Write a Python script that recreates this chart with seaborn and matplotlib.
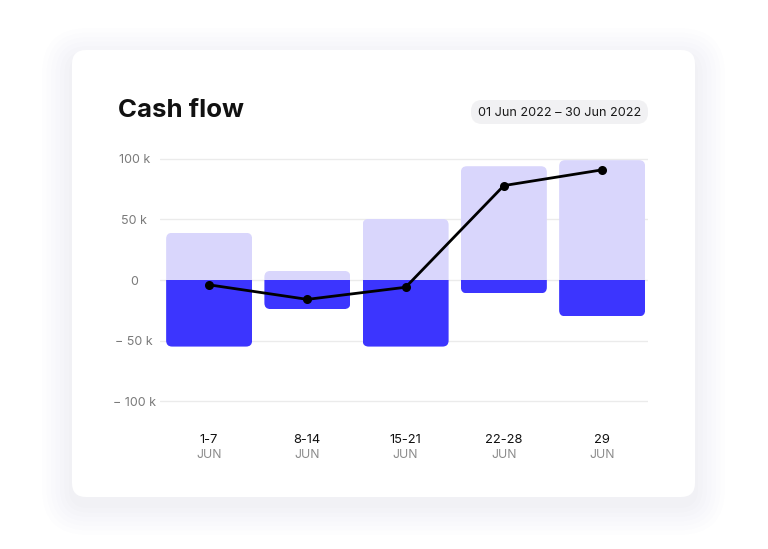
import numpy as np
import pandas as pd
import matplotlib
matplotlib.use("Agg")
import matplotlib.pyplot as plt
from matplotlib.patches import FancyBboxPatch
import seaborn as sns

# ---- data (thousands) ----
weeks = ["1-7", "8-14", "15-21", "22-28", "29"]
months = ["JUN", "JUN", "JUN", "JUN", "JUN"]
inflow = [39, 7.5, 50.5, 94, 99]
outflow = [-55, -24, -55, -11, -30]
net = [-4, -16, -6, 78, 91]
ytick_vals = [100, 50, 0, -50, -100]
ytick_labels = ["100 k", "50 k", "0", "\u2212 50 k", "\u2212 100 k"]

LIGHT = "#D9D6FC"
DARK = "#3C35FE"

sns.set_theme(style="white")
plt.rcParams["font.family"] = ["Inter", "DejaVu Sans"]

W, H = 768, 549
fig = plt.figure(figsize=(W / 100, H / 100), dpi=100)
fig.patch.set_facecolor("white")

def fx(px):
    return px / W

def fy(py):
    return 1 - py / H

# card shadow (soft)
for i, a in enumerate([0.006, 0.007, 0.008, 0.009, 0.010, 0.011, 0.012]):
    g = 30 - i * 4.5
    sh = FancyBboxPatch((fx(72 - g), fy(497 + g + 8)), fx(623 + 2 * g), (447 + 2 * g) / H,
                        boxstyle="round,pad=0,rounding_size=%f" % fx(16 + g),
                        mutation_aspect=W / H, transform=fig.transFigure,
                        facecolor="#707090", edgecolor="none", alpha=a, zorder=0)
    fig.patches.append(sh)
card = FancyBboxPatch((fx(72), fy(497)), fx(623), 447 / H,
                      boxstyle="round,pad=0,rounding_size=%f" % fx(14),
                      mutation_aspect=W / H, transform=fig.transFigure,
                      facecolor="white", edgecolor="none", zorder=1)
fig.patches.append(card)

# title and date pill
fig.text(fx(118), fy(117), "Cash flow", fontsize=18.6, fontweight="bold", color="#111111",
         ha="left", va="baseline", zorder=5)
pill = FancyBboxPatch((fx(471), fy(124)), fx(177), 24 / H,
                      boxstyle="round,pad=0,rounding_size=%f" % fx(11),
                      transform=fig.transFigure,
                      facecolor="#F1F1F3", edgecolor="none", zorder=4,
                      mutation_aspect=W / H)
fig.patches.append(pill)
fig.text(fx(559.5), fy(112.5), "01 Jun 2022 \u2013 30 Jun 2022", fontsize=9.1, color="#1a1a1a",
         ha="center", va="center", zorder=5)

# axes
ax = fig.add_axes([fx(160), fy(410), fx(648 - 160), 260 / H])
ax.set_facecolor("none")
ax.set_zorder(3)

df = pd.DataFrame({"week": weeks, "inflow": inflow, "outflow": outflow, "net": net})
sns.barplot(data=df, x="week", y="inflow", color=LIGHT, width=0.875, saturation=1,
            ax=ax, zorder=2)
sns.barplot(data=df, x="week", y="outflow", color=DARK, width=0.875, saturation=1,
            ax=ax, zorder=2)
rects = list(ax.patches)

# net line
sns.pointplot(data=df, x="week", y="net", color="black", markers="o", markersize=5,
              linewidth=2, ax=ax, zorder=5)

XR = 4.467
ax.set_xlim(-0.5, XR)
ax.set_ylim(-107.4, 107.4)

# rounded clipping of each full bar
ax_h_px = 260
ax_w_px = 488
x_per_px = (XR + 0.5) / ax_w_px
y_per_px = 214.8 / ax_h_px
for i in range(len(weeks)):
    top = rects[i]
    bot = rects[i + len(weeks)]
    x0 = top.get_x()
    w = top.get_width()
    y0 = outflow[i]
    hgt = inflow[i] - outflow[i]
    clip = FancyBboxPatch((x0, y0), w, hgt,
                          boxstyle="round,pad=0,rounding_size=%f" % (6 * x_per_px),
                          mutation_aspect=y_per_px / x_per_px,
                          transform=ax.transData, facecolor="none", edgecolor="none")
    ax.add_patch(clip)
    clip.set_visible(False)
    top.set_clip_path(clip)
    bot.set_clip_path(clip)
    top.set_edgecolor("none")
    bot.set_edgecolor("none")

# grid
for v in ytick_vals:
    ax.axhline(v, color="#EBEBEB", linewidth=1, zorder=1)

ax.set_yticks(ytick_vals)
ax.set_yticklabels(ytick_labels)
ax.tick_params(axis="y", length=0, pad=18.5, labelsize=9, labelcolor="#7a7a7a")
for lab in ax.get_yticklabels():
    lab.set_ha("center")
ax.set_xticks([])
ax.set_xlabel("")
ax.set_ylabel("")
for s in ax.spines.values():
    s.set_visible(False)

trans = ax.get_xaxis_transform()
for i, (wk, mo) in enumerate(zip(weeks, months)):
    ax.text(i, -0.115, wk, transform=trans, ha="center", va="center", fontsize=9.3,
            color="#111111", clip_on=False)
    ax.text(i, -0.172, mo, transform=trans, ha="center", va="center", fontsize=8.8,
            color="#8a8a8a", clip_on=False)

fig.savefig("out.png", dpi=100, facecolor="white")
